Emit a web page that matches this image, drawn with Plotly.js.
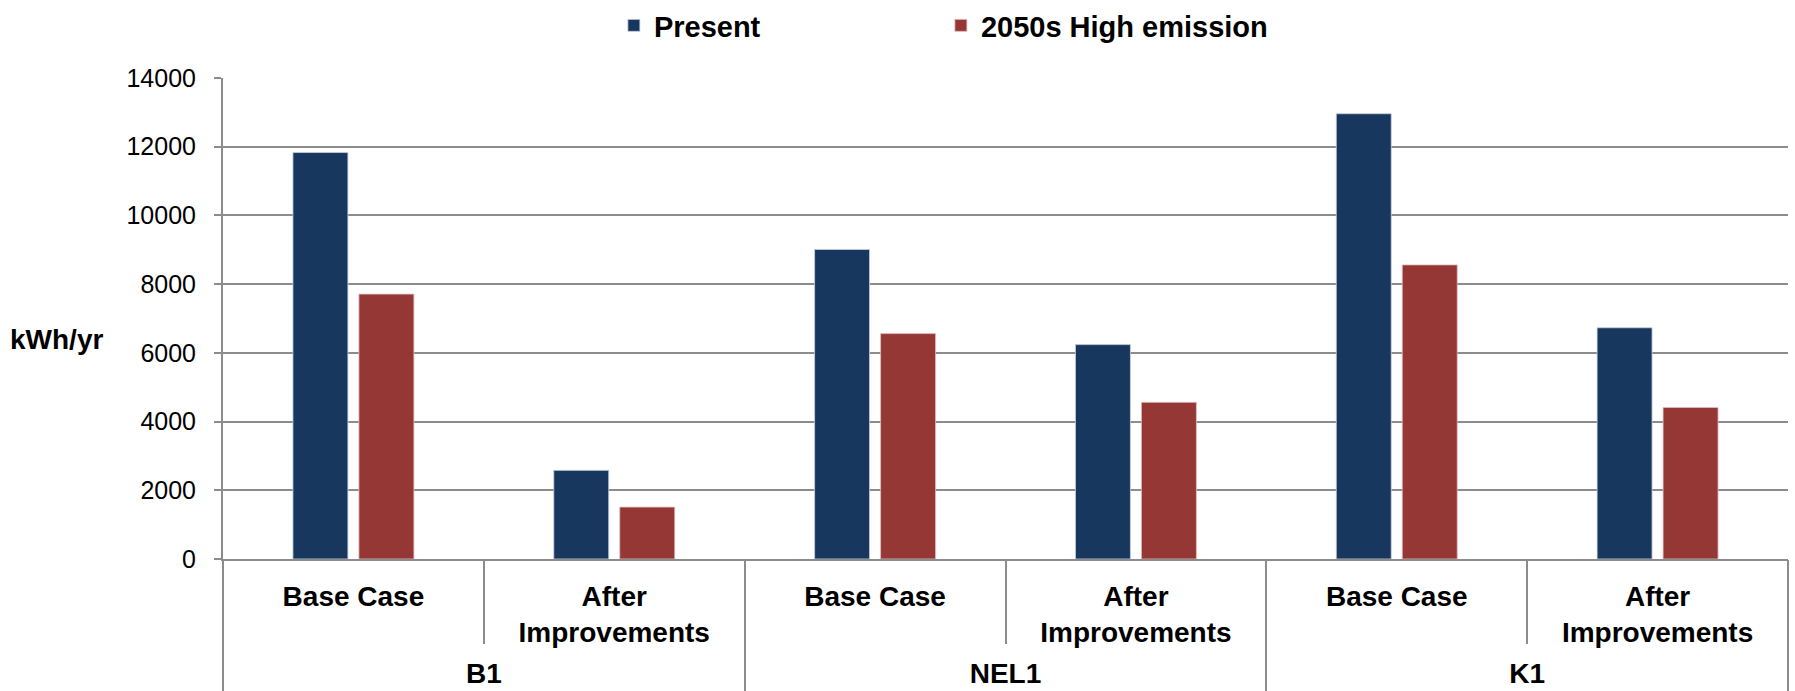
<!DOCTYPE html>
<html>
<head>
<meta charset="utf-8">
<script src="https://cdn.plot.ly/plotly-3.0.1.min.js"></script>
<style>
  html, body { margin: 0; padding: 0; background: #ffffff; }
  #chart { width: 1795px; height: 691px; }
</style>
</head>
<body>
<div id="chart"></div>
<script>
// ---- data ----
const buildings = ['B1', 'NEL1', 'K1'];
const cases = ['Base Case', 'After<br>Improvements'];
const seriesNames = ['Present', '2050s High emission'];
// values in order: B1 Base, B1 After, NEL1 Base, NEL1 After, K1 Base, K1 After
const presentValues = [11830, 2580, 9010, 6240, 12960, 6730];
const highEmissionValues = [7710, 1510, 6560, 4560, 8560, 4410];
const yTickValues = [0, 2000, 4000, 6000, 8000, 10000, 12000, 14000];
const yAxisLabel = 'kWh/yr';

// ---- build category keys (building + case) and their displayed inner labels ----
const catKeys = [];
const innerLabels = [];
buildings.forEach(b => cases.forEach(c => { catKeys.push(b + ' | ' + c); innerLabels.push(c); }));

const FONT = 'Liberation Sans, Arial, sans-serif';
const GRID = '#8c8c8c';

const traces = [
  {
    type: 'bar',
    name: seriesNames[0],
    x: catKeys,
    y: presentValues,
    marker: { color: '#17375E', line: { color: 'rgba(200,210,225,0.8)', width: 1 } },
    hoverinfo: 'y'
  },
  {
    type: 'bar',
    name: seriesNames[1],
    x: catKeys,
    y: highEmissionValues,
    marker: { color: '#953735', line: { color: 'rgba(225,190,190,0.8)', width: 1 } },
    hoverinfo: 'y'
  },
  {
    // carrier for the outer (building) category axis; draws nothing
    type: 'scatter',
    mode: 'markers',
    x: buildings,
    y: buildings.map(() => null),
    xaxis: 'x2',
    yaxis: 'y',
    showlegend: false,
    hoverinfo: 'skip'
  }
];

const layout = {
  width: 1795,
  height: 691,
  paper_bgcolor: '#ffffff',
  plot_bgcolor: '#ffffff',
  margin: { l: 223, r: 7, t: 78, b: 132, pad: 0 },
  barmode: 'group',
  bargap: 0.494,
  bargroupgap: 0.167,
  font: { family: FONT, color: '#000000', size: 23 },
  showlegend: true,
  legend: {
    orientation: 'h',
    xref: 'container',
    yref: 'container',
    x: 0.342,
    xanchor: 'left',
    y: 1.0,
    yanchor: 'top',
    entrywidth: 282,
    entrywidthmode: 'pixels',
    font: { family: FONT, size: 29, color: '#000000', weight: 'bold' },
    bgcolor: 'rgba(0,0,0,0)',
    traceorder: 'normal'
  },
  xaxis: {
    type: 'category',
    tickmode: 'array',
    tickvals: catKeys,
    ticktext: innerLabels,
    tickson: 'boundaries',
    range: [-0.5, catKeys.length - 0.5],
    showline: true,
    linecolor: GRID,
    linewidth: 2,
    showgrid: false,
    zeroline: false,
    ticks: 'outside',
    ticklen: 83,
    tickwidth: 2,
    tickcolor: GRID,
    ticklabelstandoff: 11,
    tickfont: { family: FONT, size: 28, color: '#000000', weight: 'bold' },
    fixedrange: true
  },
  xaxis2: {
    type: 'category',
    overlaying: 'x',
    anchor: 'y',
    side: 'bottom',
    tickson: 'boundaries',
    range: [-0.5, buildings.length - 0.5],
    showline: false,
    showgrid: false,
    zeroline: false,
    ticks: 'outside',
    ticklen: 135,
    tickwidth: 2,
    tickcolor: GRID,
    ticklabelstandoff: 95,
    tickfont: { family: FONT, size: 28, color: '#000000', weight: 'bold' },
    fixedrange: true
  },
  yaxis: {
    range: [0, 14000],
    tickvals: yTickValues,
    ticktext: yTickValues.map(v => String(v)),
    showline: true,
    linecolor: GRID,
    linewidth: 2,
    showgrid: true,
    gridcolor: GRID,
    gridwidth: 2,
    zeroline: false,
    ticks: 'outside',
    ticklen: 7,
    tickwidth: 2,
    tickcolor: GRID,
    ticklabelstandoff: 13,
    tickfont: { family: FONT, size: 25, color: '#000000' },
    fixedrange: true
  },
  annotations: [
    {
      text: yAxisLabel,
      xref: 'paper',
      yref: 'paper',
      x: -0.0755,
      xanchor: 'right',
      y: 0.456,
      yanchor: 'middle',
      showarrow: false,
      font: { family: FONT, size: 28, color: '#000000', weight: 'bold' }
    }
  ]
};

Plotly.newPlot('chart', traces, layout, { displayModeBar: false, staticPlot: true });
</script>
</body>
</html>
